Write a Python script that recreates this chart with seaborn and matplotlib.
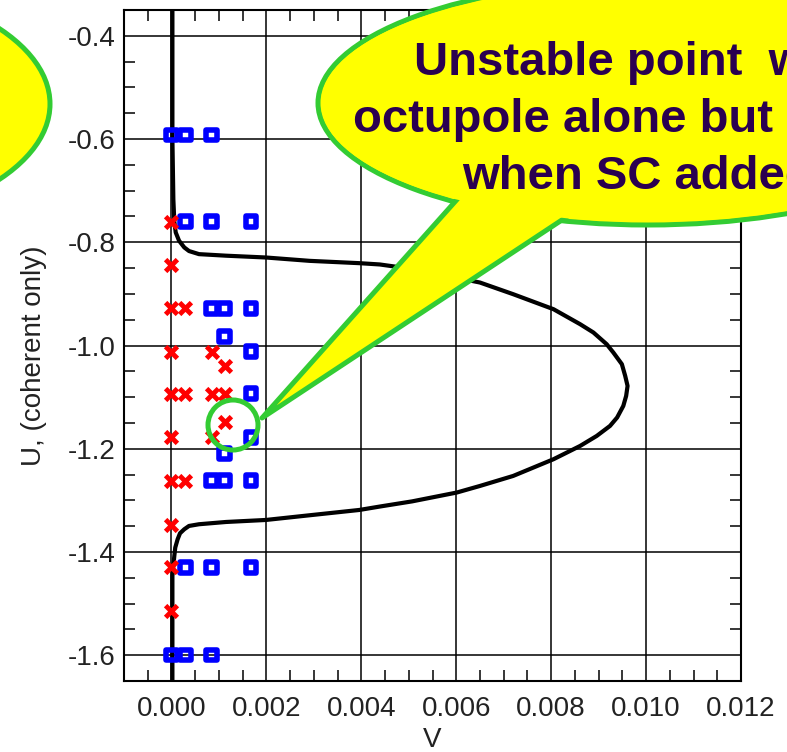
import matplotlib
matplotlib.use("Agg")
import matplotlib.pyplot as plt
import seaborn as sns
from matplotlib.patches import Ellipse, Polygon
from matplotlib.ticker import MultipleLocator, FormatStrFormatter

# ---- data ----
curve_V = [0.00002, 0.00002, 0.00004, 0.00006, 0.00009, 0.00016, 0.00027, 0.00037,
           0.00058, 0.00115, 0.00199, 0.00291, 0.00396, 0.00439, 0.00509, 0.00580,
           0.00650, 0.00720, 0.00805, 0.00861, 0.00889, 0.00917, 0.00931, 0.00949,
           0.00956, 0.00961, 0.00958, 0.00952, 0.00939, 0.00924, 0.00896, 0.00861,
           0.00805, 0.00720, 0.00650, 0.00601, 0.00507, 0.00439, 0.00396, 0.00291,
           0.00199, 0.00115, 0.00058, 0.00037, 0.00027, 0.00018, 0.00013, 0.00008,
           0.00006, 0.00002, 0.00002]
curve_U = [-0.350, -0.600, -0.717, -0.760, -0.781, -0.797, -0.810, -0.817,
           -0.823, -0.826, -0.8295, -0.836, -0.8405, -0.843, -0.852, -0.865,
           -0.878, -0.9006, -0.9297, -0.9587, -0.9748, -0.9975, -1.0136, -1.0362,
           -1.0589, -1.0783, -1.0977, -1.1171, -1.1395, -1.1558, -1.1752, -1.1946,
           -1.2203, -1.2527, -1.2721, -1.2849, -1.3020, -1.3120, -1.3186, -1.3289,
           -1.3380, -1.3419, -1.3463, -1.3496, -1.3560, -1.3638, -1.3754, -1.3915,
           -1.4078, -1.4465, -1.650]

stable_V = [0.0, 0.00029, 0.00084,
            0.00029, 0.00084, 0.00168,
            0.00084, 0.00112, 0.00168,
            0.00112, 0.00168, 0.00168, 0.00168, 0.00112,
            0.00084, 0.00112, 0.00168,
            0.00029, 0.00084, 0.00168,
            0.0, 0.00029, 0.00084]
stable_U = [-0.592, -0.592, -0.592,
            -0.760, -0.760, -0.760,
            -0.928, -0.928, -0.928,
            -0.983, -1.012, -1.093, -1.178, -1.209,
            -1.262, -1.262, -1.262,
            -1.430, -1.430, -1.430,
            -1.600, -1.600, -1.600]

unstable_V = [0.0, 0.0, 0.0, 0.00029, 0.0, 0.00085, 0.00112,
              0.0, 0.00029, 0.00085, 0.00112, 0.00112, 0.0, 0.00085,
              0.0, 0.00029, 0.0, 0.0, 0.0]
unstable_U = [-0.760, -0.844, -0.928, -0.928, -1.012, -1.012, -1.040,
              -1.093, -1.093, -1.093, -1.093, -1.149, -1.178, -1.178,
              -1.262, -1.262, -1.347, -1.430, -1.514]

x_label = "V"
y_label = "U, (coherent only)"
bubble_lines = ["Unstable point  with", "octupole alone but stable", "when SC added"]

# ---- style ----
sns.set_style("white")
plt.rcParams["font.family"] = ["Liberation Sans", "DejaVu Sans"]
plt.rcParams["axes.unicode_minus"] = False

W, H = 787, 752
fig = plt.figure(figsize=(W / 100, H / 100), dpi=100)
ax = fig.add_axes([124 / W, 1 - 681 / H, 617 / W, 671 / H])
ax.set_facecolor("white")

sns.lineplot(x=curve_V, y=curve_U, sort=False, estimator=None, color="black",
             linewidth=3, ax=ax, zorder=2, solid_joinstyle="round",
             solid_capstyle="round")
sns.scatterplot(x=stable_V, y=stable_U, marker="s", s=58, facecolors="none",
                edgecolors="#0000ff", linewidth=4, ax=ax, zorder=3)
sns.scatterplot(x=unstable_V, y=unstable_U, marker="x", s=72, color="#ff0000",
                linewidth=3.5, ax=ax, zorder=4)

ax.set_xlim(-0.001, 0.012)
ax.set_ylim(-1.65, -0.35)
ax.xaxis.set_major_locator(MultipleLocator(0.002))
ax.xaxis.set_minor_locator(MultipleLocator(0.0005))
ax.yaxis.set_major_locator(MultipleLocator(0.2))
ax.yaxis.set_minor_locator(MultipleLocator(0.05))
ax.xaxis.set_major_formatter(FormatStrFormatter("%.3f"))
ax.yaxis.set_major_formatter(FormatStrFormatter("%.1f"))

ax.grid(True, which="major", color="black", linewidth=1.1)
ax.tick_params(which="major", length=0, labelsize=20, labelcolor="#222222")
ax.tick_params(axis="x", which="major", pad=11)
ax.tick_params(axis="y", which="major", pad=6)
ax.tick_params(which="minor", direction="in", length=8, width=1.1, color="black",
               top=True, bottom=True, left=True, right=True)
for sp in ax.spines.values():
    sp.set_visible(True)
    sp.set_color("black")
    sp.set_linewidth(1.5)

ax.set_xlabel(x_label, fontsize=20, color="#222222")
ax.set_ylabel(y_label, fontsize=20, color="#222222")
ax.xaxis.set_label_coords(0.5, -0.068)
ax.yaxis.set_label_coords(-0.125, 0.485)


# ---- callouts (pixel coordinates, top-left origin) ----
def fx(x):
    return x / W


def fy(y):
    return 1 - y / H


yellow = "#ffff00"
green = "#33cc33"
lw_b = 3.6

# left bubble
fig.add_artist(Ellipse((fx(-200), fy(104)), 2 * 250 / W, 2 * 125 / H,
                       transform=fig.transFigure, facecolor=yellow,
                       edgecolor=green, linewidth=lw_b, zorder=10))

# right bubble
cx, cy, a, b = 648, 103, 330, 122
fig.add_artist(Ellipse((fx(cx), fy(cy)), 2 * a / W, 2 * b / H,
                       transform=fig.transFigure, facecolor=yellow,
                       edgecolor=green, linewidth=lw_b, zorder=10))
tail = [(262, 418), (461, 195), (574, 212)]
fig.add_artist(Polygon([(fx(x), fy(y)) for x, y in tail], closed=True,
                       transform=fig.transFigure, facecolor=yellow,
                       edgecolor=green, linewidth=lw_b, joinstyle="round",
                       zorder=11))
fig.add_artist(Ellipse((fx(cx), fy(cy)), 2 * (a - 3) / W, 2 * (b - 3) / H,
                       transform=fig.transFigure, facecolor=yellow,
                       edgecolor="none", zorder=12))

# ring around unstable point
r = 25
fig.add_artist(Ellipse((fx(233), fy(425)), 2 * r / W, 2 * r / H,
                       transform=fig.transFigure, facecolor="none",
                       edgecolor=green, linewidth=lw_b, zorder=11))

for line, yb in zip(bubble_lines, [75, 132, 189]):
    fig.text(fx(638), fy(yb), line, ha="center", va="baseline", fontsize=34,
             fontweight="bold", color="#2a0050", zorder=13)

fig.savefig("out.png", dpi=100, facecolor="white")
